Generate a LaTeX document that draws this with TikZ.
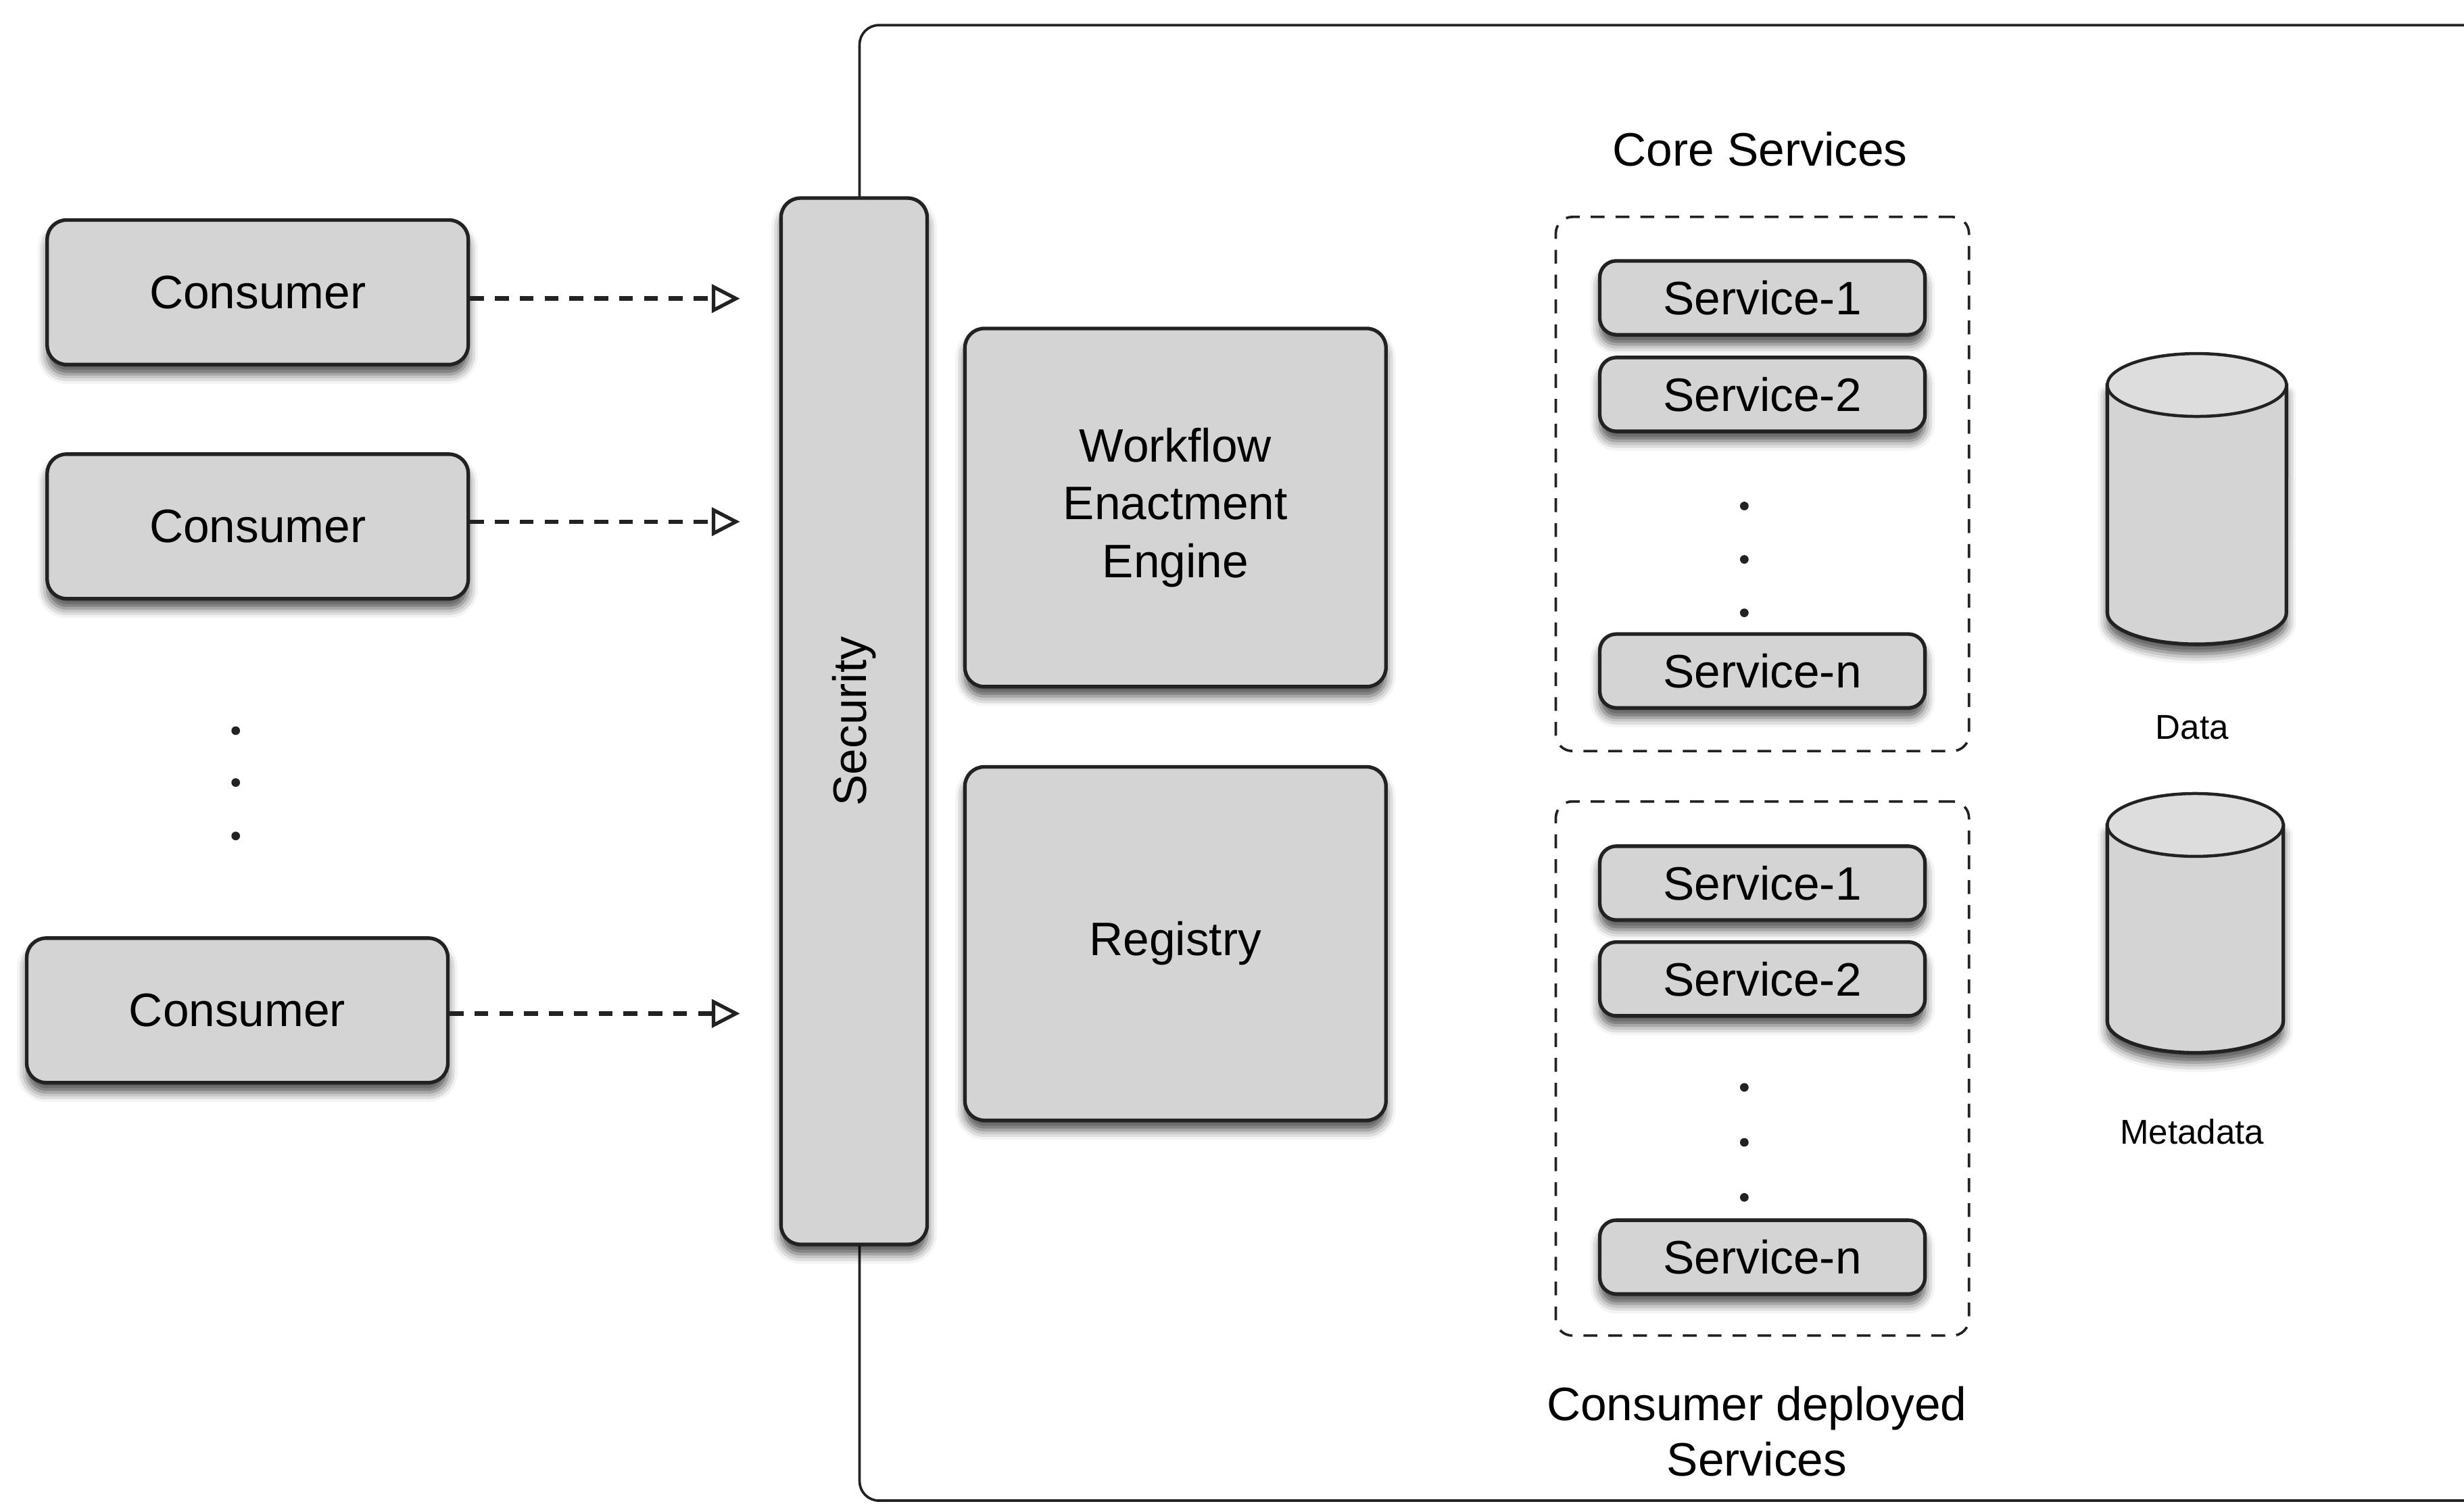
\documentclass[tikz,border=0pt]{standalone}
\usepackage{fontspec}
\setmainfont{Liberation Sans}
\usetikzlibrary{arrows.meta,shadows.blur}
\definecolor{boxgray}{HTML}{D4D4D4}
\definecolor{linegray}{HTML}{222222}
\begin{document}
\begin{tikzpicture}[x=0.02cm,y=-0.02cm,
  font=\fontsize{17}{21}\selectfont,
  softshadow/.style={blur shadow={shadow xshift=0pt,shadow yshift=-3.5pt,
      shadow blur radius=3.5pt,shadow opacity=70}},
  block/.style={draw=linegray,line width=1.3pt,fill=boxgray,rounded corners=7pt,
      align=center,inner sep=0pt,softshadow},
  consumer/.style={block,minimum width=5.36cm,minimum height=1.84cm},
  bigblock/.style={block,minimum width=5.36cm,minimum height=4.5cm},
  service/.style={block,rounded corners=6pt,minimum width=4.14cm,minimum height=0.94cm},
  group/.style={draw=linegray,line width=0.9pt,dash pattern=on 5pt off 4pt,
      rounded corners=6pt,minimum width=5.26cm,minimum height=6.8cm,inner sep=0pt},
  storebody/.style={draw=linegray,line width=1.3pt,fill=boxgray,softshadow},
  storetop/.style={draw=linegray,line width=1.1pt,fill=boxgray!80},
  small/.style={font=\fontsize{12.5}{14}\selectfont},
  dot/.style={circle,fill=linegray,inner sep=0pt,minimum size=0.11cm},
  flow/.style={line width=1.6pt,draw=linegray,dash pattern=on 5pt off 4pt,
      -{Triangle[open,length=0.36cm,width=0.36cm,line width=1.3pt]},shorten >=0.5cm},
  frame/.style={draw=linegray,line width=0.9pt,rounded corners=7pt}
]
\useasboundingbox (0,0) rectangle (1568,958);

% outer platform boundary
\coordinate (ftop) at (1600,16);
\coordinate (fbot) at (1600,955);
\draw[frame] (ftop) -- (547,16) -- (547,955) -- (fbot);

% consumers
\node[consumer] (c1) at (164,186) {Consumer};
\node[consumer] (c2) at (164,335) {Consumer};
\node[consumer] (c3) at (151,643) {Consumer};
\node[dot] (cd1) at (150,465) {};
\node[dot] (cd2) at (150,498) {};
\node[dot] (cd3) at (150,532) {};

% security layer
\node[block,minimum width=1.86cm,minimum height=13.32cm,
      label={[rotate=90]center:Security}] (sec) at (543.5,459) {};

% requests from consumers
\draw[flow] (c1.east) ++(0,4) coordinate (a1) -- (a1 -| sec.west);
\draw[flow] (c2.east) ++(0,-3) coordinate (a2) -- (a2 -| sec.west);
\draw[flow] (c3.east) ++(0,2) coordinate (a3) -- (a3 -| sec.west);

% engine and registry
\node[bigblock,minimum height=4.56cm] (wee) at (748,323) {Workflow\\Enactment\\Engine};
\node[bigblock] (reg) at (748,600.5) {Registry};

% core services
\node (corelbl) at (1120,95) {Core Services};
\node[group] (core) at (1121.5,308) {};
\node[service] (cs1) at (1121.5,189.5) {Service-1};
\node[service] (cs2) at (1121.5,251) {Service-2};
\node[dot] (csd1) at (1110,322) {};
\node[dot] (csd2) at (1110,356) {};
\node[dot] (csd3) at (1110,390) {};
\node[service] (csn) at (1121.5,427) {Service-n};

% consumer deployed services
\node[group] (user) at (1121.5,680) {};
\node[service] (us1) at (1121.5,562) {Service-1};
\node[service] (us2) at (1121.5,623) {Service-2};
\node[dot] (usd1) at (1110,692) {};
\node[dot] (usd2) at (1110,727) {};
\node[dot] (usd3) at (1110,762) {};
\node[service] (usn) at (1121.5,800) {Service-n};
\node[align=center,font=\fontsize{17}{20}\selectfont] (userlbl) at (1118,911)
  {Consumer deployed\\Services};

% storage: data
\path[storebody] (1341,245) -- (1341,390)
  arc[start angle=180,end angle=360,x radius=1.14cm,y radius=0.4cm] -- (1455,245) -- cycle;
\path[storetop] (1398,245) ellipse[x radius=1.14cm,y radius=0.4cm];
\node[small] (datalbl) at (1395,463) {Data};

% storage: metadata
\path[storebody] (1341,525) -- (1341,650)
  arc[start angle=180,end angle=360,x radius=1.12cm,y radius=0.4cm] -- (1453,525) -- cycle;
\path[storetop] (1397,525) ellipse[x radius=1.12cm,y radius=0.4cm];
\node[small] (metalbl) at (1395,720) {Metadata};
\end{tikzpicture}
\end{document}
